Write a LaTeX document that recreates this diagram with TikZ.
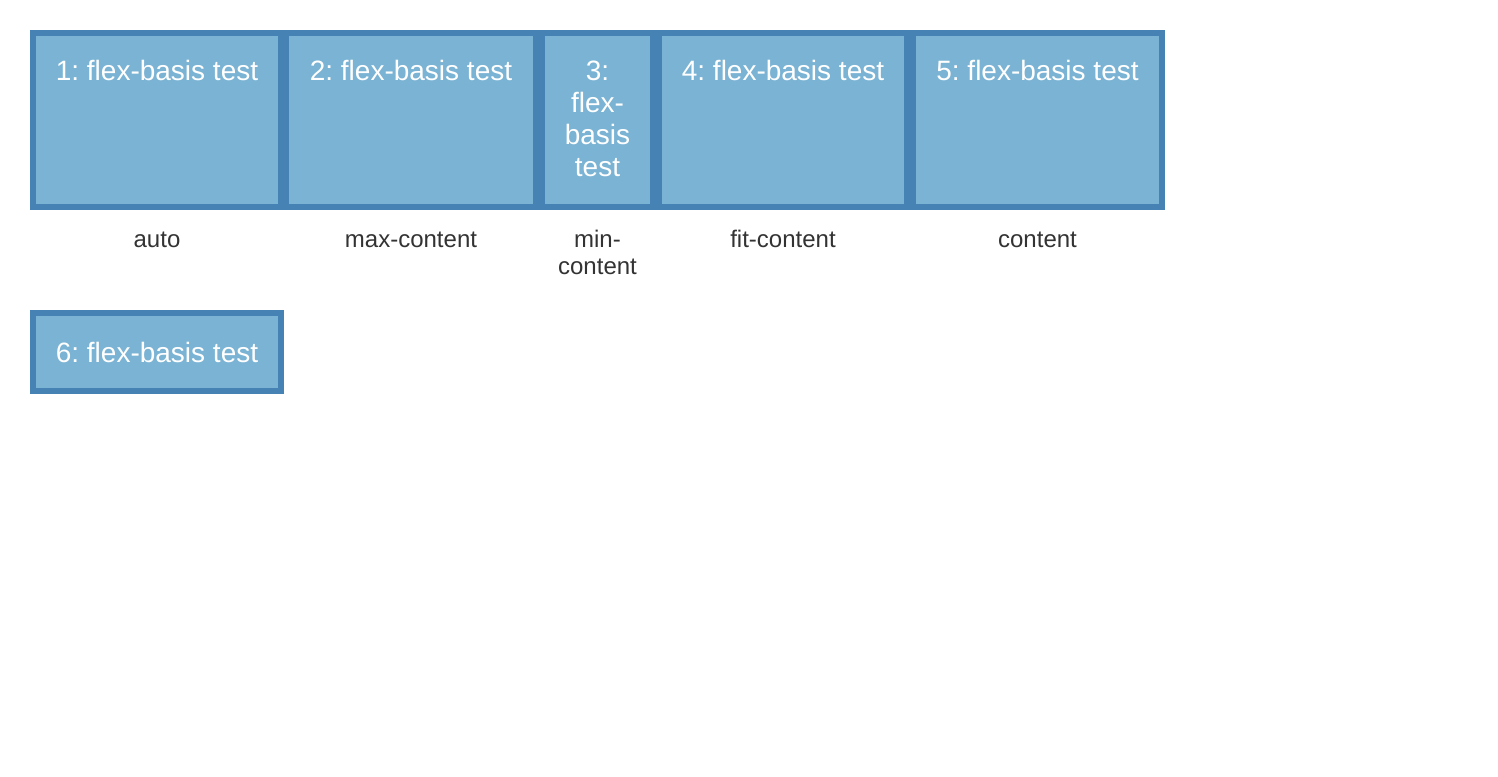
\documentclass[tikz,border=0pt]{standalone}
\usepackage{fontspec}
\setmainfont{Liberation Sans}
\frenchspacing
\usetikzlibrary{positioning}
\definecolor{steel}{RGB}{70,130,180}
\definecolor{sky}{RGB}{122,179,212}
\definecolor{ink}{RGB}{51,51,51}
\tikzset{
  flexrow/.style={fill=steel,inner sep=0pt,minimum width=#1},
  flexitem/.style={fill=sky,inner sep=0pt,minimum width=#1},
  itemtext/.style={text=white,inner sep=0pt,align=center,
    font=\fontsize{21pt}{24pt}\selectfont},
  basislabel/.style={text=ink,inner sep=0pt,align=center,anchor=base,
    font=\fontsize{18pt}{20.7pt}\selectfont},
}

\begin{document}
\begin{tikzpicture}[x=0.75pt,y=-0.75pt]
  \useasboundingbox[fill=white] (0,0) rectangle (1498,776);
  % first flex container
  \node[flexrow=851.25pt,minimum height=135pt] (row1) at (597.5,120) {};
  \node[flexitem=181.5pt,minimum height=126pt] (it1) at (157,120) {};
  \node[flexitem=183pt,minimum height=126pt] (it2) at (411,120) {};
  \node[flexitem=78.75pt,minimum height=126pt] (it3) at (597.5,120) {};
  \node[flexitem=181.5pt,minimum height=126pt] (it4) at (783,120) {};
  \node[flexitem=182.25pt,minimum height=126pt] (it5) at (1037.5,120) {};
  \node[itemtext,below=18.4pt of it1.north] (t1) {1: flex-basis test};
  \node[itemtext,below=18.4pt of it2.north] (t2) {2: flex-basis test};
  \node[itemtext,below=18.4pt of it3.north] (t3) {3:\\flex-\\basis\\test};
  \node[itemtext,below=18.4pt of it4.north] (t4) {4: flex-basis test};
  \node[itemtext,below=18.4pt of it5.north] (t5) {5: flex-basis test};
  % flex-basis values (base = last line)
  \node[basislabel] (l1) at (157,247) {auto};
  \node[basislabel] (l2) at (411,247) {max-content};
  \node[basislabel] (l3) at (597.5,274.6) {min-\\content};
  \node[basislabel] (l4) at (783,247) {fit-content};
  \node[basislabel] (l5) at (1037.5,247) {content};
  % second flex container
  \node[flexrow=190.5pt,minimum height=63pt] (row2) at (157,352) {};
  \node[flexitem=181.5pt,minimum height=54pt,itemtext] (it6) at (157,352) {6: flex-basis test};
\end{tikzpicture}
\end{document}
